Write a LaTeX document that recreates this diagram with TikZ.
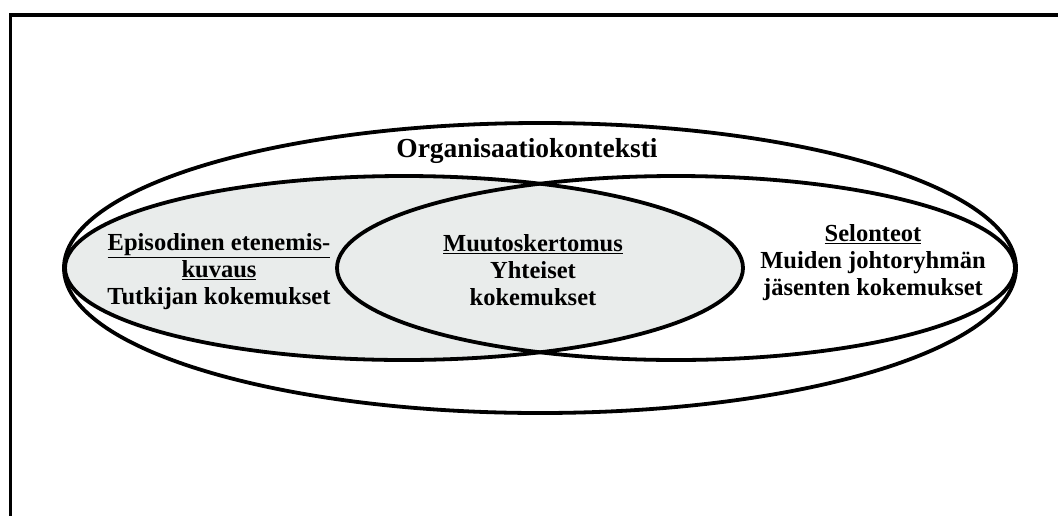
\documentclass[tikz,border=0pt]{standalone}
\usepackage{fontspec}
\setmainfont{Liberation Serif}
\definecolor{lensgray}{RGB}{233,236,235}
\begin{document}
\begin{tikzpicture}[x=1pt,y=-1pt,
  ring/.style={draw=black,line width=3.8pt},
  label/.style={font=\fontsize{24.5}{27}\selectfont\bfseries,align=center,inner sep=0pt}]
  \useasboundingbox (0,0) rectangle (1058,515);
  % frame
  \draw[line width=3.6pt] (10.5,530) -- (10.5,15) -- (1075,15);
  % ellipses
  \draw[ring] (540,268) ellipse [x radius=476,y radius=145];
  \fill[lensgray] (404,268) ellipse [x radius=339,y radius=92];
  \draw[ring] (676,268) ellipse [x radius=339,y radius=92];
  \draw[ring] (404,268) ellipse [x radius=339,y radius=92];
  % labels
  \node[label,font=\fontsize{27.5}{30}\selectfont\bfseries,anchor=base] (ctx) at (527,157) {Organisaatiokonteksti};
  \node[label] (epi) at (219,272) {\underline{Episodinen etenemis-}\\\underline{kuvaus}\\Tutkijan kokemukset};
  \node[label] (muu) at (533,270) {\underline{Muutoskertomus}\\Yhteiset\\kokemukset};
  \node[label] (sel) at (873,263) {\underline{Selonteot}\\Muiden johtoryhmän\\jäsenten kokemukset};
\end{tikzpicture}
\end{document}
